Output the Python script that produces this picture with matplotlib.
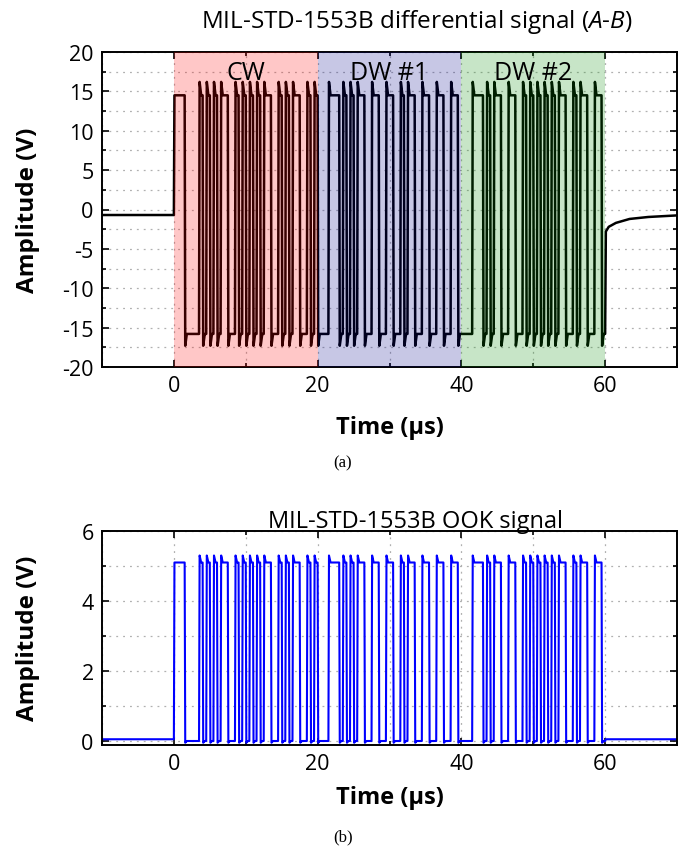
import matplotlib
matplotlib.use("Agg")
import matplotlib.pyplot as plt  # noqa: E402
from matplotlib.ticker import MultipleLocator  # noqa: E402

plt.rcParams["font.family"] = ["Open Sans", "DejaVu Sans"]
plt.rcParams["axes.unicode_minus"] = False
plt.rcParams["mathtext.fontset"] = "custom"
plt.rcParams["mathtext.rm"] = "Open Sans"
plt.rcParams["mathtext.it"] = "Open Sans:italic"

# 1553B words: 16 data bits + parity, 1 us per bit
CW_BITS = [0, 0, 0, 0, 1, 0, 0, 0, 0, 0, 1, 0, 0, 0, 1, 0, 0]
DW1_BITS = [0, 0, 0, 1, 0, 1, 0, 1, 0, 0, 1, 0, 1, 0, 1, 0, 1]
DW2_BITS = [0, 0, 1, 0, 1, 0, 0, 0, 0, 0, 0, 1, 0, 0, 1, 0, 1]
WORD_NAMES = ["CW", "DW #1", "DW #2"]
WORD_STARTS = [0, 20, 40]
WORD_COLORS = ["#ff0000", "#00008c", "#008c00"]

# signal levels (V)
DIFF_IDLE = -0.7
DIFF_HIGH, DIFF_HIGH_PEAK = 14.5, 16.2
DIFF_LOW, DIFF_LOW_PEAK = -15.8, -17.3
TAIL_T = [60.1, 60.5, 61.5, 63.4, 66.0, 70.0]
TAIL_V = [-2.8, -2.2, -1.7, -1.2, -0.95, -0.75]

OOK_IDLE = 0.05
OOK_HIGH, OOK_HIGH_PEAK = 5.1, 5.3
OOK_LOW, OOK_LOW_PEAK = 0.0, -0.05


def word_slots(bits, command):
    # half-microsecond slots, +1 = positive
    slots = [1, 1, 1, -1, -1, -1] if command else [-1, -1, -1, 1, 1, 1]
    for b in bits:
        slots += [1, -1] if b else [-1, 1]
    return slots


def segments():
    slots = (word_slots(CW_BITS, True) + word_slots(DW1_BITS, False)
             + word_slots(DW2_BITS, False))
    segs = []
    start = 0
    for i in range(1, len(slots) + 1):
        if i == len(slots) or slots[i] != slots[start]:
            segs.append((start * 0.5, i * 0.5, slots[start]))
            start = i
    return segs


def trace(idle, high, high_peak, low, low_peak, tail_t, tail_v):
    t, v = [-10.0, 0.0], [idle, idle]
    for k, (t0, t1, s) in enumerate(segments()):
        peak, flat = (high_peak, high) if s > 0 else (low_peak, low)
        if k == 0:
            peak = flat
        t += [t0 + 0.08, t0 + 0.3, t1]
        v += [peak, flat, flat]
    t += tail_t
    v += tail_v
    return t, v


def style(ax, ylim, ymajor, yminor, xlab_y):
    ax.set_xlim(-10, 70)
    ax.set_ylim(*ylim)
    ax.xaxis.set_major_locator(MultipleLocator(20))
    ax.xaxis.set_minor_locator(MultipleLocator(10))
    ax.yaxis.set_major_locator(MultipleLocator(ymajor))
    ax.yaxis.set_minor_locator(MultipleLocator(yminor))
    ax.grid(which="both", linestyle=(0, (1.5, 4)), color="#b0b0b0", lw=0.9, zorder=0)
    ax.tick_params(which="both", direction="in", top=True, right=True,
                   labelsize=15.5, width=1.2, pad=6)
    ax.tick_params(which="major", length=5)
    ax.tick_params(which="minor", length=3)
    for sp in ax.spines.values():
        sp.set_linewidth(1.4)
    ax.set_xlabel("Time (μs)", fontsize=17, fontweight="bold", va="center")
    ax.set_ylabel("Amplitude (V)", fontsize=17.5, fontweight="bold", va="center")
    ax.xaxis.set_label_coords(0.5, xlab_y)
    ax.yaxis.set_label_coords((28 - 102) / 575, 0.5)


fig = plt.figure(figsize=(6.85, 8.54), dpi=100)

ax1 = fig.add_axes([102 / 685, 1 - 368 / 854, 575 / 685, 315 / 854])
t, v = trace(DIFF_IDLE, DIFF_HIGH, DIFF_HIGH_PEAK, DIFF_LOW, DIFF_LOW_PEAK, TAIL_T, TAIL_V)
ax1.plot(t, v, color="black", lw=1.8, zorder=2)
for name, x0, c in zip(WORD_NAMES, WORD_STARTS, WORD_COLORS):
    ax1.axvspan(x0, x0 + 20, color=c, alpha=0.22, lw=0, zorder=3)
    ax1.text(x0 + 10, 17.4, name, ha="center", va="center", fontsize=18, zorder=4)
style(ax1, (-20, 20), 5, 2.5, (368 - 428) / 315)
fig.text(417 / 685, 1 - 22 / 854, r"MIL-STD-1553B differential signal ($\mathit{A}$-$\mathit{B}$)",
         fontsize=17.5, ha="center", va="center")
fig.text(343 / 685, 1 - 463 / 854, "(a)", fontsize=12, ha="center", va="center",
         family="Liberation Serif")

ax2 = fig.add_axes([102 / 685, 1 - 745.5 / 854, 575 / 685, 213.5 / 854])
t, v = trace(OOK_IDLE, OOK_HIGH, OOK_HIGH_PEAK, OOK_LOW, OOK_LOW_PEAK,
             [60.1, 70.0], [OOK_IDLE, OOK_IDLE])
ax2.plot(t, v, color="#0000ff", lw=1.5, zorder=2)
style(ax2, (-0.1, 6), 2, 1, (745.5 - 798) / 213.5)
fig.text(416 / 685, 1 - 522 / 854, "MIL-STD-1553B OOK signal", fontsize=17,
         ha="center", va="center")
fig.text(343 / 685, 1 - 837 / 854, "(b)", fontsize=12, ha="center", va="center",
         family="Liberation Serif")

fig.savefig("out.png", dpi=100)
